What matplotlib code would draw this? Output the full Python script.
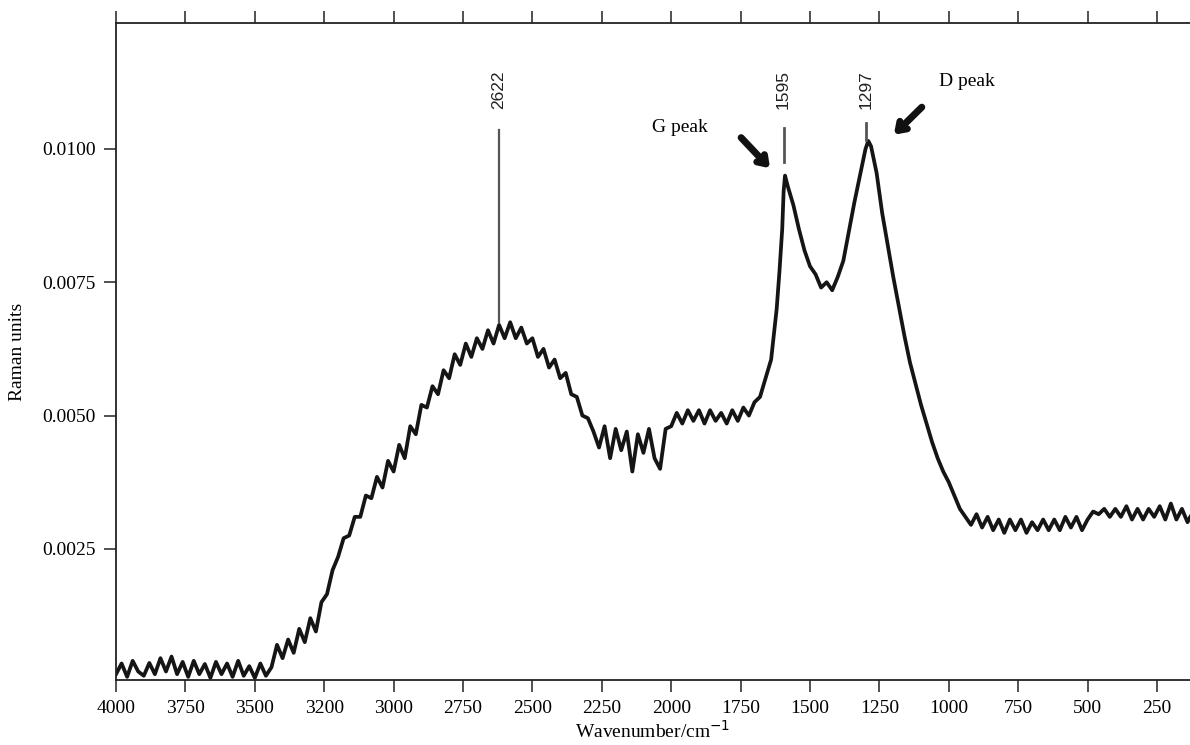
import numpy as np
import matplotlib.pyplot as plt

# Raman spectrum (intensity in units of 1e-4)
wavenumber = [
    4000, 3980, 3960, 3940, 3920, 3900, 3880, 3860, 3840, 3820, 3800, 3780, 3760, 3740, 3720,
    3700, 3680, 3660, 3640, 3620, 3600, 3580, 3560, 3540, 3520, 3500, 3480, 3460, 3440, 3420,
    3400, 3380, 3360, 3340, 3320, 3300, 3280, 3260, 3240, 3220, 3200, 3180, 3160, 3140, 3120,
    3100, 3080, 3060, 3040, 3020, 3000, 2980, 2960, 2940, 2920, 2900, 2880, 2860, 2840, 2820,
    2800, 2780, 2760, 2740, 2720, 2700, 2680, 2660, 2640, 2620, 2600, 2580, 2560, 2540, 2520,
    2500, 2480, 2460, 2440, 2420, 2400, 2380, 2360, 2340, 2320, 2300, 2280, 2260, 2240, 2220,
    2200, 2180, 2160, 2140, 2120, 2100, 2080, 2060, 2040, 2020, 2000, 1980, 1960, 1940, 1920,
    1900, 1880, 1860, 1840, 1820, 1800, 1780, 1760, 1740, 1720, 1700, 1680, 1660, 1640, 1620,
    1610, 1600, 1595, 1590, 1580, 1560, 1540, 1520, 1500, 1480, 1460, 1440, 1420, 1400, 1380,
    1360, 1340, 1320, 1300, 1290, 1280, 1260, 1240, 1220, 1200, 1180, 1160, 1140, 1120, 1100,
    1080, 1060, 1040, 1020, 1000, 980, 960, 940, 920, 900, 880, 860, 840, 820, 800,
    780, 760, 740, 720, 700, 680, 660, 640, 620, 600, 580, 560, 540, 520, 500,
    480, 460, 440, 420, 400, 380, 360, 340, 320, 300, 280, 260, 240, 220, 200,
    180, 160, 140, 130,
]
intensity = [
    1.5, 3.5, 1.0, 4.0, 2.0, 1.2, 3.6, 1.5, 4.5, 2.0, 4.8, 1.5, 3.8, 1.0, 4.0,
    1.5, 3.4, 0.8, 3.8, 1.5, 3.5, 1.0, 4.0, 1.2, 3.0, 0.8, 3.5, 1.2, 2.8, 7.0,
    4.5, 8.0, 5.5, 10.0, 7.5, 12.0, 9.5, 15.0, 16.5, 21.0, 23.5, 27.0, 27.5, 31.0, 31.0,
    35.0, 34.5, 38.5, 36.5, 41.5, 39.5, 44.5, 42.0, 48.0, 46.5, 52.0, 51.5, 55.5, 54.0, 58.5,
    57.0, 61.5, 59.5, 63.5, 61.0, 64.5, 62.5, 66.0, 63.5, 67.0, 64.5, 67.5, 64.5, 66.5, 63.5,
    64.5, 61.0, 62.5, 59.0, 60.5, 57.0, 58.0, 54.0, 53.5, 50.0, 49.5, 47.0, 44.0, 48.0, 42.0,
    47.5, 43.5, 47.0, 39.5, 46.5, 43.0, 47.5, 42.0, 40.0, 47.5, 48.0, 50.5, 48.5, 51.0, 49.0,
    51.0, 48.5, 51.0, 49.0, 50.5, 48.5, 51.0, 49.0, 51.5, 50.0, 52.5, 53.5, 57.0, 60.5, 70.0,
    77.0, 85.0, 92.0, 95.0, 93.0, 89.5, 85.0, 81.0, 78.0, 76.5, 74.0, 75.0, 73.5, 76.0, 79.0,
    84.5, 90.0, 95.0, 100.0, 101.5, 100.5, 95.5, 88.0, 82.0, 76.0, 70.5, 65.0, 60.0, 56.0, 52.0,
    48.5, 45.0, 42.0, 39.5, 37.5, 35.0, 32.5, 31.0, 29.5, 31.5, 29.0, 31.0, 28.5, 30.5, 28.0,
    30.5, 28.5, 30.5, 28.0, 30.0, 28.5, 30.5, 28.5, 30.5, 28.5, 31.0, 29.0, 31.0, 28.5, 30.5,
    32.0, 31.5, 32.5, 31.0, 32.5, 31.0, 33.0, 30.5, 32.5, 30.5, 32.5, 31.0, 33.0, 30.5, 33.5,
    30.5, 32.5, 30.0, 31.0,
]

x_ticks = [4000, 3750, 3500, 3250, 3000, 2750, 2500, 2250, 2000, 1750, 1500, 1250, 1000, 750, 500, 250]
x_ticklabels = ['4000', '3750', '3500', '3200', '3000', '2750', '2500', '2250', '2000', '1750',
                '1500', '1250', '1000', '750', '500', '250']
y_ticks = [0.0025, 0.0050, 0.0075, 0.0100]
y_ticklabels = ['0.0025', '0.0050', '0.0075', '0.0100']

peak_labels = ['2622', '1595', '1297']
peak_line_bottom = [0.00675, 0.00975, 0.01017]
peak_line_top = [0.01036, 0.01039, 0.01049]

wn = np.array(wavenumber)
y = np.array(intensity) * 1e-4

plt.rcParams['font.family'] = ['Liberation Serif', 'DejaVu Serif']

fig = plt.figure(figsize=(11.9, 7.45), dpi=100)
ax = fig.add_axes([0.0975, 0.0872, 0.9025, 0.8818])

ax.plot(wn, y, color='#151515', lw=2.7, solid_joinstyle='round')

# peak markers
for lab, lo, hi in zip(peak_labels, peak_line_bottom, peak_line_top):
    p = float(lab)
    ax.plot([p, p], [lo, hi], color='#555555', lw=1.6 if lab == '2622' else 2.0)
    ax.text(p, 0.01111, lab, rotation=90, ha='center', va='center', fontsize=12.5,
            family=['Liberation Sans', 'DejaVu Sans'], color='#222222')

ax.text(1968, 0.0104, 'G peak', ha='center', va='center', fontsize=14)
ax.text(934, 0.01126, 'D peak', ha='center', va='center', fontsize=14)
arrow = dict(arrowstyle='->,head_length=0.55,head_width=0.38', lw=5, color='#111111')
ax.annotate('', xy=(1637, 0.0096), xytext=(1755, 0.01025), arrowprops=arrow)
ax.annotate('', xy=(1205, 0.01023), xytext=(1090, 0.01082), arrowprops=arrow)

ax.set_xlim(4000, 131)
ax.set_ylim(0.00004, 0.01236)
ax.set_xticks(x_ticks)
ax.set_xticklabels(x_ticklabels)
ax.set_yticks(y_ticks)
ax.set_yticklabels(y_ticklabels)

ax.spines['right'].set_visible(False)
for s in ['left', 'bottom', 'top']:
    ax.spines[s].set_linewidth(1.3)
    ax.spines[s].set_color('#222222')
ax.tick_params(axis='both', direction='out', length=8.5, width=1.2, labelsize=14, color='#333333', pad=6)
ax.tick_params(axis='x', top=True, labeltop=False)
ax.tick_params(axis='y', right=False)

ax.set_xlabel('Wavenumber/cm$^{-1}$', fontsize=14, labelpad=2)
ax.set_ylabel('Raman units', fontsize=14, labelpad=12)

fig.savefig('out.png', dpi=100)
